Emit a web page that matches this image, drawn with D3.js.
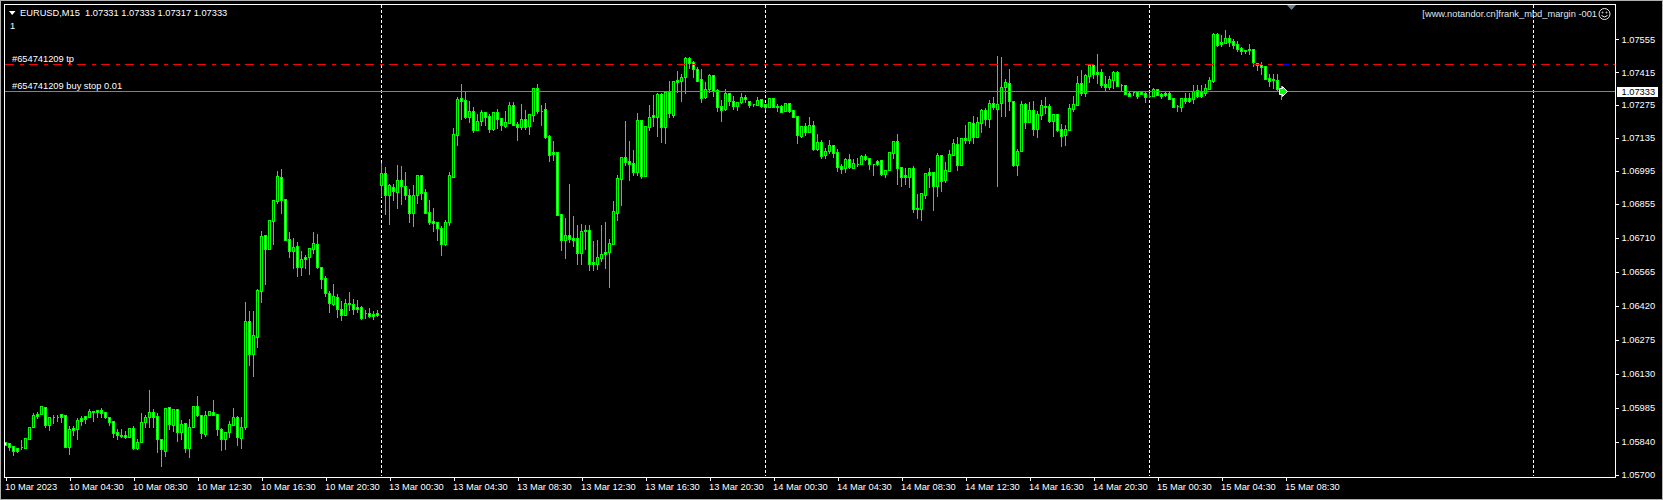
<!DOCTYPE html>
<html><head><meta charset="utf-8">
<script src="https://cdn.jsdelivr.net/npm/d3@7"></script>
<style>
html,body{margin:0;padding:0;background:#000;overflow:hidden}
svg{display:block}
text{font-family:"Liberation Sans",Arial,sans-serif;font-size:9.3px;fill:#fff}
</style></head><body>
<script>
const opens=[
1.05839,1.05837,1.05822,1.05814,1.05817,1.05815,1.05854,1.05902,1.05960,1.05959,
1.05987,1.05912,1.05945,1.05946,1.05959,1.05953,1.05820,1.05899,1.05896,1.05942,
1.05949,1.05947,1.05973,1.05976,1.05976,1.05967,1.05945,1.05929,1.05881,1.05871,
1.05868,1.05859,1.05898,1.05814,1.05838,1.05925,1.05945,1.05966,1.05949,1.05851,
1.05803,1.05987,1.05913,1.05979,1.05884,1.05919,1.05815,1.05902,1.05991,1.05953,
1.05872,1.05953,1.05967,1.05959,1.05896,1.05851,1.05881,1.05913,1.05945,1.05858,
1.05904,1.06353,1.06214,1.06288,1.06484,1.06721,1.06663,1.06782,1.06867,1.06967,
1.06873,1.06703,1.06654,1.06673,1.06586,1.06626,1.06626,1.06663,1.06681,1.06583,
1.06536,1.06473,1.06427,1.06458,1.06404,1.06381,1.06432,1.06427,1.06413,1.06413,
1.06387,1.06387,1.06384,1.06387,1.06935,1.06984,1.06890,1.06927,1.06905,1.06954,
1.06931,1.06893,1.06813,1.06890,1.06975,1.06903,1.06818,1.06779,1.06775,1.06749,
1.06683,1.06776,1.06969,1.07148,1.07303,1.07296,1.07225,1.07250,1.07168,1.07205,
1.07244,1.07228,1.07171,1.07244,1.07219,1.07187,1.07199,1.07273,1.07194,1.07182,
1.07214,1.07187,1.07233,1.07346,1.07251,1.07256,1.07143,1.07074,1.07073,1.06810,
1.06700,1.06720,1.06708,1.06707,1.06645,1.06742,1.06741,1.06605,1.06597,1.06623,
1.06647,1.06648,1.06683,1.06816,1.06961,1.07052,1.07035,1.07026,1.06991,1.07211,
1.06972,1.07182,1.07231,1.07225,1.07322,1.07181,1.07331,1.07233,1.07381,1.07378,
1.07393,1.07474,1.07458,1.07427,1.07384,1.07307,1.07342,1.07401,1.07339,1.07270,
1.07256,1.07325,1.07293,1.07272,1.07286,1.07310,1.07293,1.07279,1.07276,1.07299,
1.07278,1.07267,1.07303,1.07272,1.07269,1.07249,1.07282,1.07253,1.07228,1.07143,
1.07184,1.07160,1.07188,1.07087,1.07116,1.07060,1.07077,1.07103,1.07073,1.07015,
1.07006,1.07043,1.07006,1.07025,1.07023,1.07056,1.07048,1.07025,1.07036,1.07040,
1.06982,1.06998,1.07072,1.07121,1.07011,1.06977,1.06969,1.07005,1.06836,1.06833,
1.06891,1.06989,1.06988,1.06930,1.07060,1.06955,1.06995,1.07062,1.07107,1.07020,
1.07133,1.07126,1.07197,1.07140,1.07199,1.07252,1.07216,1.07284,1.07259,1.07282,
1.07350,1.07367,1.07290,1.07020,1.07077,1.07278,1.07204,1.07252,1.07174,1.07233,
1.07270,1.07269,1.07207,1.07235,1.07171,1.07148,1.07170,1.07258,1.07276,1.07367,
1.07327,1.07400,1.07444,1.07415,1.07415,1.07363,1.07351,1.07381,1.07415,1.07359,
1.07359,1.07325,1.07329,1.07329,1.07331,1.07325,1.07314,1.07314,1.07344,1.07320,
1.07325,1.07325,1.07303,1.07269,1.07267,1.07303,1.07303,1.07301,1.07339,1.07331,
1.07325,1.07344,1.07377,1.07576,1.07542,1.07539,1.07559,1.07546,1.07533,1.07517,
1.07508,1.07508,1.07513,1.07454,1.07445,1.07440,1.07388,1.07385,1.07380,1.07331];
const highs=[
1.05839,1.05837,1.05825,1.05817,1.05852,1.05855,1.05902,1.05967,1.05973,1.05996,
1.05990,1.05945,1.05959,1.05959,1.05962,1.05953,1.05912,1.05912,1.05945,1.05953,
1.05953,1.05983,1.05976,1.05980,1.05987,1.05973,1.05950,1.05933,1.05898,1.05898,
1.05891,1.05902,1.05912,1.05855,1.05967,1.05959,1.06064,1.05983,1.05969,1.05855,
1.05990,1.05990,1.05979,1.05979,1.05937,1.05919,1.05940,1.05997,1.06038,1.05953,
1.05976,1.05976,1.06021,1.05962,1.05902,1.05881,1.05933,1.05990,1.05956,1.05950,
1.06440,1.06401,1.06401,1.06494,1.06742,1.06725,1.06785,1.06873,1.06998,1.07006,
1.06873,1.06738,1.06711,1.06694,1.06657,1.06640,1.06666,1.06738,1.06728,1.06586,
1.06550,1.06487,1.06515,1.06473,1.06444,1.06451,1.06482,1.06451,1.06448,1.06423,
1.06404,1.06413,1.06401,1.06404,1.07032,1.07015,1.06941,1.06944,1.07023,1.07019,
1.06992,1.06921,1.06938,1.06981,1.06977,1.06921,1.06873,1.06841,1.06775,1.06763,
1.06788,1.06992,1.07180,1.07313,1.07367,1.07339,1.07296,1.07270,1.07239,1.07256,
1.07245,1.07239,1.07248,1.07262,1.07225,1.07253,1.07290,1.07290,1.07205,1.07284,
1.07256,1.07242,1.07353,1.07367,1.07279,1.07287,1.07151,1.07126,1.07073,1.06810,
1.06796,1.06941,1.06806,1.06768,1.06771,1.06768,1.06768,1.06700,1.06704,1.06768,
1.06781,1.06708,1.06870,1.06981,1.07057,1.07211,1.07126,1.07087,1.07245,1.07215,
1.07184,1.07279,1.07322,1.07331,1.07331,1.07331,1.07381,1.07377,1.07424,1.07412,
1.07483,1.07483,1.07466,1.07441,1.07431,1.07377,1.07410,1.07403,1.07347,1.07299,
1.07347,1.07327,1.07316,1.07293,1.07330,1.07322,1.07296,1.07284,1.07313,1.07302,
1.07282,1.07303,1.07303,1.07282,1.07278,1.07286,1.07286,1.07256,1.07228,1.07185,
1.07202,1.07228,1.07211,1.07157,1.07129,1.07097,1.07129,1.07106,1.07090,1.07029,
1.07052,1.07069,1.07048,1.07054,1.07066,1.07069,1.07048,1.07025,1.07045,1.07043,
1.06998,1.07079,1.07126,1.07154,1.07011,1.07012,1.07012,1.07019,1.06899,1.06899,
1.06984,1.07009,1.06988,1.07073,1.07065,1.07037,1.07086,1.07135,1.07143,1.07135,
1.07194,1.07206,1.07232,1.07228,1.07261,1.07267,1.07299,1.07313,1.07488,1.07483,
1.07391,1.07432,1.07290,1.07090,1.07296,1.07289,1.07292,1.07296,1.07253,1.07299,
1.07313,1.07282,1.07235,1.07235,1.07197,1.07194,1.07282,1.07317,1.07402,1.07427,
1.07410,1.07452,1.07452,1.07495,1.07431,1.07402,1.07404,1.07424,1.07424,1.07370,
1.07360,1.07339,1.07331,1.07331,1.07331,1.07339,1.07331,1.07350,1.07347,1.07329,
1.07339,1.07339,1.07303,1.07279,1.07303,1.07331,1.07331,1.07363,1.07364,1.07364,
1.07367,1.07398,1.07584,1.07584,1.07578,1.07598,1.07576,1.07561,1.07552,1.07527,
1.07510,1.07539,1.07513,1.07459,1.07462,1.07445,1.07410,1.07410,1.07410,1.07360];
const lows=[
1.05825,1.05805,1.05786,1.05798,1.05811,1.05815,1.05854,1.05902,1.05940,1.05959,
1.05902,1.05891,1.05922,1.05930,1.05926,1.05820,1.05788,1.05869,1.05852,1.05912,
1.05922,1.05947,1.05929,1.05947,1.05947,1.05940,1.05912,1.05862,1.05851,1.05859,
1.05858,1.05859,1.05811,1.05810,1.05838,1.05902,1.05902,1.05905,1.05797,1.05737,
1.05780,1.05893,1.05888,1.05845,1.05851,1.05795,1.05777,1.05902,1.05950,1.05855,
1.05865,1.05953,1.05953,1.05869,1.05805,1.05811,1.05862,1.05912,1.05828,1.05815,
1.05896,1.06167,1.06120,1.06245,1.06435,1.06512,1.06663,1.06683,1.06858,1.06813,
1.06700,1.06628,1.06580,1.06546,1.06550,1.06580,1.06555,1.06643,1.06580,1.06495,
1.06461,1.06393,1.06424,1.06373,1.06359,1.06379,1.06401,1.06384,1.06393,1.06363,
1.06369,1.06373,1.06364,1.06376,1.06887,1.06810,1.06768,1.06870,1.06836,1.06853,
1.06873,1.06776,1.06759,1.06858,1.06873,1.06813,1.06768,1.06739,1.06700,1.06636,
1.06678,1.06763,1.06969,1.07104,1.07214,1.07219,1.07202,1.07160,1.07168,1.07189,
1.07189,1.07160,1.07168,1.07175,1.07168,1.07180,1.07199,1.07188,1.07126,1.07174,
1.07174,1.07151,1.07208,1.07241,1.07189,1.07134,1.07037,1.07040,1.06807,1.06657,
1.06623,1.06691,1.06674,1.06597,1.06597,1.06663,1.06572,1.06572,1.06576,1.06611,
1.06580,1.06501,1.06683,1.06785,1.06849,1.07019,1.06955,1.06977,1.06977,1.06964,
1.06972,1.07168,1.07185,1.07143,1.07117,1.07114,1.07225,1.07225,1.07331,1.07293,
1.07327,1.07431,1.07395,1.07378,1.07289,1.07303,1.07331,1.07313,1.07250,1.07208,
1.07253,1.07273,1.07259,1.07253,1.07282,1.07289,1.07265,1.07270,1.07275,1.07265,
1.07256,1.07267,1.07267,1.07248,1.07245,1.07248,1.07246,1.07222,1.07114,1.07137,
1.07148,1.07160,1.07083,1.07083,1.07049,1.07049,1.07069,1.07054,1.06995,1.06984,
1.06989,1.07005,1.07005,1.07015,1.07023,1.07040,1.07001,1.06977,1.07018,1.06977,
1.06967,1.06998,1.07048,1.06938,1.06930,1.06938,1.06927,1.06819,1.06793,1.06785,
1.06877,1.06927,1.06827,1.06887,1.06908,1.06947,1.06995,1.07062,1.06998,1.07020,
1.07112,1.07112,1.07114,1.07140,1.07160,1.07191,1.07182,1.07258,1.06930,1.07228,
1.07228,1.07253,1.07015,1.06977,1.07077,1.07177,1.07204,1.07147,1.07138,1.07214,
1.07239,1.07204,1.07143,1.07165,1.07100,1.07104,1.07170,1.07250,1.07273,1.07317,
1.07313,1.07374,1.07390,1.07370,1.07353,1.07339,1.07344,1.07347,1.07356,1.07336,
1.07322,1.07313,1.07317,1.07305,1.07323,1.07287,1.07307,1.07314,1.07316,1.07303,
1.07313,1.07299,1.07267,1.07250,1.07250,1.07282,1.07289,1.07282,1.07310,1.07307,
1.07317,1.07342,1.07374,1.07527,1.07525,1.07539,1.07527,1.07519,1.07506,1.07491,
1.07496,1.07491,1.07442,1.07422,1.07408,1.07385,1.07357,1.07346,1.07340,1.07300];
const closes=[
1.05825,1.05820,1.05803,1.05803,1.05817,1.05855,1.05902,1.05953,1.05949,1.05993,
1.05910,1.05945,1.05945,1.05946,1.05947,1.05820,1.05893,1.05892,1.05933,1.05929,
1.05939,1.05970,1.05967,1.05967,1.05964,1.05945,1.05926,1.05879,1.05871,1.05866,
1.05861,1.05899,1.05814,1.05838,1.05923,1.05945,1.05966,1.05946,1.05854,1.05808,
1.05983,1.05916,1.05979,1.05884,1.05916,1.05814,1.05902,1.05993,1.05953,1.05879,
1.05953,1.05970,1.05956,1.05896,1.05851,1.05881,1.05916,1.05945,1.05859,1.05905,
1.06353,1.06214,1.06294,1.06487,1.06717,1.06663,1.06785,1.06870,1.06972,1.06870,
1.06700,1.06654,1.06671,1.06586,1.06617,1.06620,1.06664,1.06686,1.06583,1.06532,
1.06473,1.06430,1.06461,1.06404,1.06381,1.06432,1.06428,1.06406,1.06407,1.06367,
1.06387,1.06377,1.06378,1.06381,1.06984,1.06893,1.06933,1.06907,1.06955,1.06931,
1.06893,1.06816,1.06890,1.06975,1.06901,1.06816,1.06778,1.06773,1.06752,1.06683,
1.06775,1.06975,1.07150,1.07299,1.07292,1.07225,1.07248,1.07168,1.07205,1.07245,
1.07225,1.07174,1.07245,1.07216,1.07188,1.07201,1.07273,1.07191,1.07182,1.07214,
1.07182,1.07236,1.07347,1.07250,1.07251,1.07137,1.07063,1.07067,1.06807,1.06700,
1.06720,1.06704,1.06701,1.06645,1.06737,1.06738,1.06597,1.06597,1.06626,1.06639,
1.06641,1.06686,1.06822,1.06962,1.07052,1.07033,1.07023,1.06989,1.07209,1.06972,
1.07184,1.07222,1.07225,1.07322,1.07181,1.07331,1.07239,1.07376,1.07374,1.07393,
1.07474,1.07455,1.07429,1.07378,1.07306,1.07342,1.07401,1.07336,1.07267,1.07255,
1.07325,1.07293,1.07272,1.07289,1.07310,1.07300,1.07276,1.07279,1.07296,1.07272,
1.07267,1.07303,1.07267,1.07267,1.07246,1.07282,1.07250,1.07225,1.07148,1.07184,
1.07160,1.07188,1.07087,1.07116,1.07059,1.07080,1.07103,1.07072,1.07011,1.07003,
1.07043,1.07009,1.07026,1.07025,1.07057,1.07045,1.07023,1.07025,1.07023,1.06981,
1.06998,1.07076,1.07121,1.07006,1.06969,1.06969,1.07005,1.06833,1.06833,1.06899,
1.06984,1.06978,1.06930,1.07060,1.06952,1.06998,1.07065,1.07112,1.07020,1.07133,
1.07127,1.07202,1.07140,1.07202,1.07252,1.07216,1.07282,1.07267,1.07278,1.07350,
1.07371,1.07290,1.07020,1.07077,1.07278,1.07204,1.07252,1.07174,1.07236,1.07273,
1.07267,1.07208,1.07235,1.07170,1.07143,1.07171,1.07261,1.07278,1.07367,1.07325,
1.07402,1.07444,1.07407,1.07408,1.07360,1.07353,1.07384,1.07415,1.07357,1.07359,
1.07323,1.07314,1.07329,1.07314,1.07323,1.07310,1.07314,1.07344,1.07319,1.07314,
1.07316,1.07302,1.07267,1.07269,1.07303,1.07292,1.07292,1.07336,1.07314,1.07313,
1.07346,1.07380,1.07576,1.07530,1.07536,1.07559,1.07544,1.07530,1.07513,1.07506,
1.07505,1.07513,1.07457,1.07445,1.07438,1.07385,1.07377,1.07380,1.07343,1.07333];

const yTickValues=[1.07555,1.07415,1.07275,1.07135,1.06995,1.06855,1.06710,1.06565,1.06420,1.06275,1.06130,1.05985,1.05840,1.05700];
const timeLabels=["10 Mar 2023","10 Mar 04:30","10 Mar 08:30","10 Mar 12:30","10 Mar 16:30","10 Mar 20:30",
"13 Mar 00:30","13 Mar 04:30","13 Mar 08:30","13 Mar 12:30","13 Mar 16:30","13 Mar 20:30",
"14 Mar 00:30","14 Mar 04:30","14 Mar 08:30","14 Mar 12:30","14 Mar 16:30","14 Mar 20:30",
"15 Mar 00:30","15 Mar 04:30","15 Mar 08:30"];
const barsPerLabel=16;
const periodSeparatorBars=[94,190,286,382];
const takeProfitPrice=1.07449;
const orderPrice=1.07333;
const headerText="EURUSD,M15  1.07331 1.07333 1.07317 1.07333";
const subWindowText="1";
const tpLabel="#654741209 tp";
const orderLabel="#654741209 buy stop 0.01";
const eaLabel="[www.notandor.cn]frank_mbd_margin -001";

const W=1663,H=500,L=4.5,R=1615.5,T=4.5,B=477.5;
const LIME="#00ff00";
const svg=d3.select("body").append("svg").attr("width",W).attr("height",H).style("background","#000");
const x=d3.scaleLinear().domain([0,closes.length-1]).range([5.5,5.5+4*(closes.length-1)]);
const y=d3.scaleLinear().domain([1.05700,1.07555]).range([474.7,39.2]);
const py=v=>Math.round(y(v))+0.5;

// outer window edge
svg.append("rect").attr("x",0.5).attr("y",0.5).attr("width",W-1).attr("height",H-1).attr("fill","none").attr("stroke","#b0b0b0").attr("shape-rendering","crispEdges");

// period separators
svg.append("g").selectAll("line").data(periodSeparatorBars).join("line")
  .attr("x1",d=>x(d)).attr("x2",d=>x(d)).attr("y1",T).attr("y2",B-2)
  .attr("stroke","#fff").attr("stroke-dasharray","3,2").attr("shape-rendering","crispEdges");

// candles
const idx=d3.range(closes.length);
const g=svg.append("g").attr("shape-rendering","crispEdges");
g.selectAll("line.wick").data(idx).join("line").attr("class","wick")
  .attr("x1",i=>x(i)).attr("x2",i=>x(i))
  .attr("y1",i=>py(highs[i])).attr("y2",i=>py(lows[i])+0.5)
  .attr("stroke",LIME);
g.selectAll("path.body").data(idx).join("path").attr("class","body")
  .attr("d",i=>{
    const a=py(Math.max(opens[i],closes[i])),b=py(Math.min(opens[i],closes[i])),c=x(i);
    return `M${c-1} ${a}H${c+1}V${b}H${c-1}Z`;
  })
  .attr("fill",i=>closes[i]>=opens[i]?"#000":"#fff")
  .attr("stroke",LIME);

// order lines
const lines=svg.append("g").attr("shape-rendering","crispEdges");
lines.append("line").attr("x1",5).attr("x2",R).attr("y1",py(orderPrice)).attr("y2",py(orderPrice)).attr("stroke","#2cc02c");
lines.append("line").attr("x1",5).attr("x2",R).attr("y1",py(orderPrice)).attr("y2",py(orderPrice)).attr("stroke","#808080").attr("stroke-dasharray","14,46");
lines.append("line").attr("x1",5).attr("x2",R).attr("y1",py(takeProfitPrice)).attr("y2",py(takeProfitPrice))
  .attr("stroke","#ff0000").attr("stroke-dasharray","9,6,3.5,5.5");
lines.append("line").attr("x1",x(319)+1).attr("x2",x(319)+7).attr("y1",py(takeProfitPrice)).attr("y2",py(takeProfitPrice)).attr("stroke","#0000ff");

// buy-stop arrow on last bar
const ax=x(319),ay=py(closes[319]);
svg.append("path").attr("d",`M${ax-2} ${ay-3}H${ax+1}V${ay-5}L${ax+6} ${ay}L${ax+1} ${ay+5}V${ay+3}H${ax-2}Z`)
  .attr("fill",LIME).attr("stroke","#fff");

// frame
svg.append("path").attr("d",`M${L} ${T}H${R}V${B}H${L}Z`).attr("fill","none").attr("stroke","#fff").attr("shape-rendering","crispEdges");

// axes
const xAxis=d3.axisBottom(x).tickValues(timeLabels.map((_,k)=>k*barsPerLabel)).tickFormat(d=>timeLabels[d/barsPerLabel]).tickSize(3);
const gx=svg.append("g").attr("transform",`translate(0,${B})`).call(xAxis);
gx.select(".domain").remove();
gx.selectAll("line").attr("stroke","#fff").attr("shape-rendering","crispEdges");
gx.selectAll("text").attr("text-anchor","start").attr("x",-1).attr("y",6).attr("dy",".71em").style("fill","#fff").style("font-size","9.3px").style("font-family",'"Liberation Sans"');

const yAxis=d3.axisRight(y).tickValues(yTickValues).tickFormat(d3.format(".5f")).tickSize(3);
const gy=svg.append("g").attr("transform",`translate(${R},0)`).call(yAxis);
gy.select(".domain").remove();
gy.selectAll("line").attr("stroke","#fff").attr("shape-rendering","crispEdges");
gy.selectAll("text").attr("x",6).style("fill","#fff").style("font-size","9.3px").style("font-family",'"Liberation Sans"');

// current price tag
svg.append("rect").attr("x",R+1.5).attr("y",py(orderPrice)-4.5).attr("width",41).attr("height",10).attr("fill","#fff");
svg.append("text").attr("x",R+6).attr("y",py(orderPrice)+3.5).text(d3.format(".5f")(orderPrice)).style("fill","#000");

// texts
svg.append("path").attr("d","M9 11H15.5L12.2 15Z").attr("fill","#fff");
svg.append("text").attr("x",20).attr("y",16).attr("xml:space","preserve").style("white-space","pre").text(headerText);
svg.append("text").attr("x",10).attr("y",29).text(subWindowText);
svg.append("text").attr("x",12).attr("y",62).text(tpLabel);
svg.append("text").attr("x",12).attr("y",89).text(orderLabel);
svg.append("text").attr("x",1597).attr("y",17).attr("text-anchor","end").style("fill","#dfe8f2").text(eaLabel);

// smiley
const sm=svg.append("g").attr("transform","translate(1604.5,14)").attr("fill","none").attr("stroke","#e8e8e8");
sm.append("circle").attr("r",5.5);
sm.append("circle").attr("cx",-2).attr("cy",-1.5).attr("r",0.5);
sm.append("circle").attr("cx",2).attr("cy",-1.5).attr("r",0.5);
sm.append("path").attr("d","M-3 1.5Q0 4.5 3 1.5");

// shift marker
svg.append("path").attr("d","M1287 5H1296L1291.5 10Z").attr("fill","#708090");
</script>
</body></html>
